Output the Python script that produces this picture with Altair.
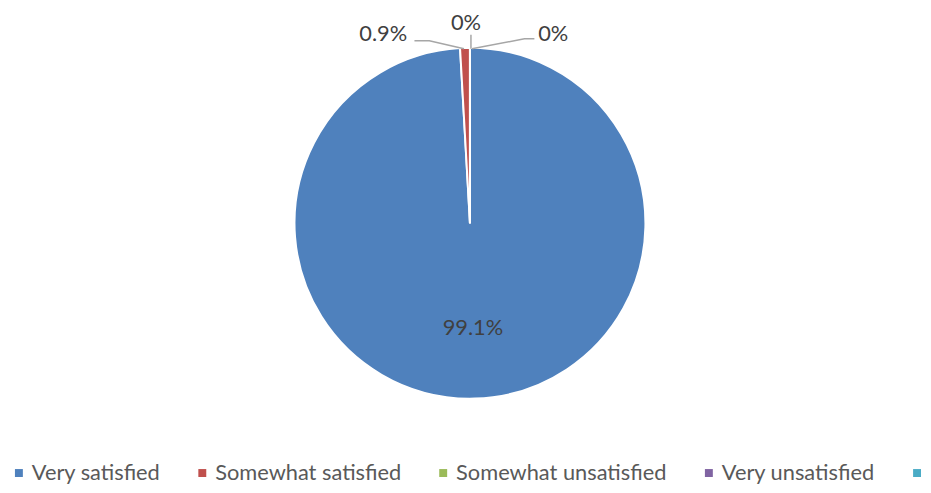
import altair as alt
import pandas as pd

categories = ["Very satisfied", "Somewhat satisfied", "Somewhat unsatisfied", "Very unsatisfied", " "]
shares = [99.1, 0.9, 0.0, 0.0, 0.0]
labels = ["99.1%", "0.9%", "0%", "0%", ""]
colors = ["#4F81BD", "#C0504D", "#9BBB59", "#8064A2", "#4BACC6"]

df = pd.DataFrame({"category": categories, "share": shares, "label": labels,
                   "idx": list(range(len(categories)))})

CX, CY, R = 466, 215, 177
FONT = "Lato"
TXT = "#404040"

base = alt.Chart(df).transform_calculate(
    lab_main="datum.idx == 0 ? datum.label : ''",
    lab_left="datum.idx == 1 ? datum.label : ''",
    lab_top="datum.idx == 2 ? datum.label : ''",
    lab_right="datum.idx == 3 ? datum.label : ''",
).encode(
    theta=alt.Theta("share:Q", stack=True),
    order=alt.Order("idx:Q"),
    x=alt.value(CX),
    y=alt.value(CY),
)

arcs = base.mark_arc(outerRadius=R, stroke="white", strokeWidth=2).encode(
    color=alt.Color("category:N", sort=categories,
                    scale=alt.Scale(domain=categories, range=colors),
                    legend=alt.Legend(title=None))
)

def label_layer(field, radius, dx=0, dy=0):
    return base.mark_text(radius=radius, dx=dx, dy=dy, font=FONT, fontSize=22,
                          color=TXT).encode(text=f"{field}:N", detail="category:N")

main_lab = label_layer("lab_main", 106)
left_lab = label_layer("lab_left", 195, dx=-82, dy=4)
top_lab = label_layer("lab_top", 190, dx=-4, dy=-12)
right_lab = label_layer("lab_right", 195, dx=84, dy=4)

# leader lines (annotation geometry, pixel space)
leaders = pd.DataFrame({
    "line": ["a", "a", "a", "b", "b", "c", "c", "c"],
    "k": [0, 1, 2, 0, 1, 0, 1, 2],
    "px": [410, 425, 460, 467, 467, 468, 521, 531],
    "py": [31, 31, 39, 25, 39, 39, 29, 29],
})
lead = alt.Chart(leaders).mark_line(color="#A6A6A6", strokeWidth=1.5).encode(
    x=alt.X("px:Q", scale=None, axis=None),
    y=alt.Y("py:Q", scale=None, axis=None),
    detail="line:N",
    order="k:Q",
)

chart = alt.layer(arcs, lead, main_lab, left_lab, top_lab, right_lab).properties(
    width=923, height=477, padding=0, autosize=alt.AutoSizeParams(type="none")
).configure_view(strokeWidth=0).configure_legend(
    orient="none", legendX=0, legendY=456, direction="horizontal",
    symbolType="square", symbolSize=64, symbolStrokeWidth=0,
    labelFont=FONT, labelFontSize=22, labelColor="#595959", labelLimit=400,
    labelOffset=2, columnPadding=31, padding=0,
)

chart.save("out.html", embed_options={"renderer": "svg", "actions": False})
